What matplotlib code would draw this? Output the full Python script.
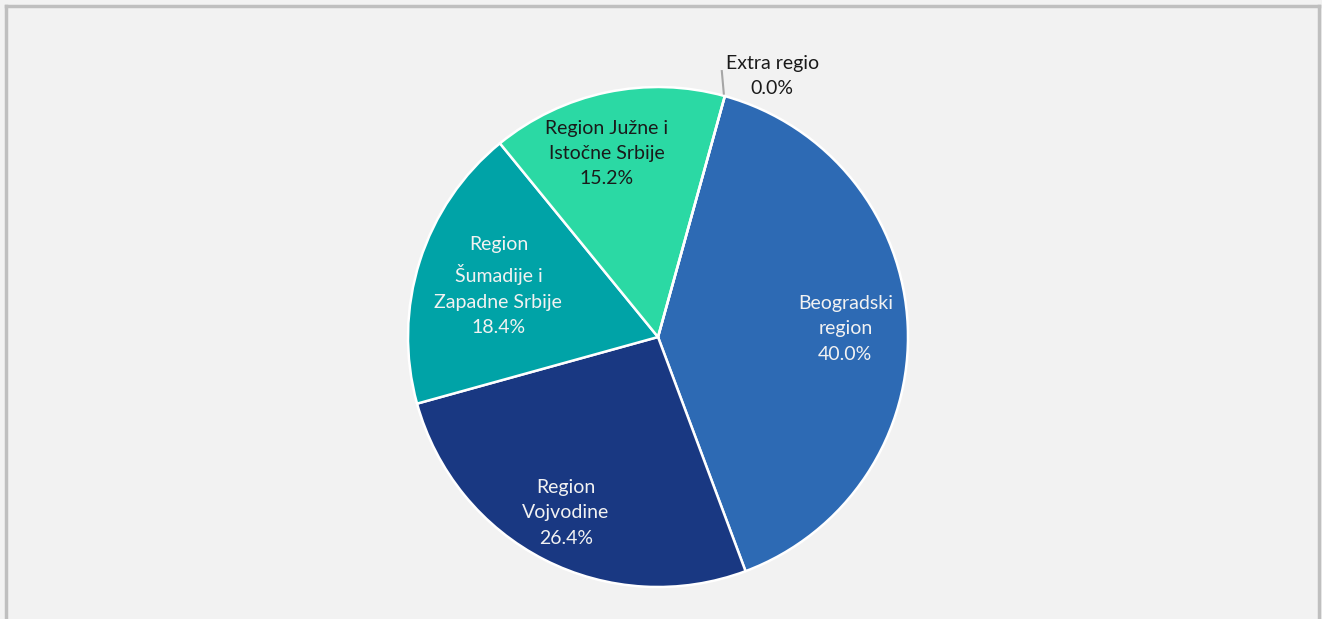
import numpy as np
import matplotlib.pyplot as plt
from matplotlib.lines import Line2D

# podaci
regije = ['Beogradski\nregion', 'Region\nVojvodine', 'Region\nŠumadije i\nZapadne Srbije',
          'Region Južne i\nIstočne Srbije', 'Extra regio']
udeli = [40.0, 26.4, 18.4, 15.2, 0.0]
boje = ['#2d6ab4', '#193882', '#00a3a7', '#2bd9a4', '#7f7f7f']
boje_teksta = ['#f2f2f2', '#f2f2f2', '#f2f2f2', '#1a1a1a', '#1a1a1a']
poluprecnik_labele = [0.75, 0.79, 0.67, 0.75, 1.0]
pomak_x = [0.0, -0.01, 0.0, -0.05, 0.0]

plt.rcParams['font.family'] = ['Lato', 'DejaVu Sans']

fig = plt.figure(figsize=(13.22, 6.19), dpi=100)
fig.patch.set_facecolor('#f2f2f2')

# okvir
W, H = 1322, 619
fig.add_artist(Line2D([6 / W, 6 / W], [0, 1 - 6 / H], color='#bfbfbf', lw=2.5))
fig.add_artist(Line2D([6 / W, 1319 / W], [1 - 6 / H, 1 - 6 / H], color='#bfbfbf', lw=2.5))
fig.add_artist(Line2D([1319 / W, 1319 / W], [0, 1 - 6 / H], color='#bfbfbf', lw=2.5))

ax = fig.add_axes([408 / W, 32 / H, 500 / W, 500 / H])
ax.set_facecolor('none')

start = 74.5
wedges, _ = ax.pie(udeli, colors=boje, startangle=start, counterclock=False,
                   wedgeprops=dict(edgecolor='white', linewidth=1.8))

for w, lab, val, tc, rf, dx in zip(wedges, regije, udeli, boje_teksta, poluprecnik_labele, pomak_x):
    if val == 0:
        continue
    ang = np.deg2rad((w.theta1 + w.theta2) / 2)
    x, y = rf * np.cos(ang) + dx, rf * np.sin(ang)
    ax.text(x, y, f'{lab}\n{val:.1f}%', ha='center', va='center', color=tc,
            fontsize=14, linespacing=1.6)

# Extra regio sa linijom
w = wedges[4]
ang = np.deg2rad(w.theta1)
x0, y0 = np.cos(ang), np.sin(ang)
ax.plot([x0 - 0.004, x0 - 0.012], [y0 + 0.01, y0 + 0.1], color='#a6a6a6', lw=1.5, clip_on=False)
ax.text(x0 + 0.19, y0 + 0.08, f'{regije[4]}\n{udeli[4]:.1f}%', ha='center', va='center',
        color='#1a1a1a', fontsize=14, linespacing=1.6)

ax.set_xlim(-1, 1)
ax.set_ylim(-1, 1)
ax.set_aspect('equal')
ax.axis('off')

fig.savefig('out.png', dpi=100, facecolor=fig.get_facecolor())
